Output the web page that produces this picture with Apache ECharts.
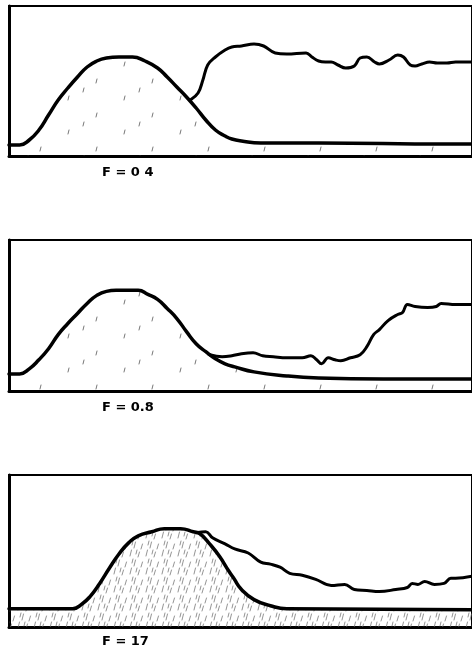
<!DOCTYPE html>
<html>
<head>
<meta charset="utf-8">
<style>
html,body{margin:0;padding:0;background:#fff;}
#c{width:472px;height:653px;}
</style>
<script src="https://cdn.jsdelivr.net/npm/echarts@6/dist/echarts.min.js"></script>
</head>
<body>
<div id="c"></div>
<script>
// ---- data (x: time units, y: signal units) ----
const panelLabels = ['F = 0 4', 'F = 0.8', 'F = 17'];

const p1BellX = [0, 1.1, 2.1, 3.1, 4.1, 5.1, 6.1, 7.1, 8.1, 9.1, 10.1, 11.4, 12.8, 14.1, 15.4, 16.4, 17.4, 18.4, 19.4, 20.4, 21.4, 22.4, 23.1, 24.1, 26.1, 32.1, 45.4, 48];
const p1BellY = [11, 11, 16, 26, 41, 56, 68, 79, 89, 95, 98, 99, 99, 95, 88, 79, 69, 59, 48, 36, 26, 20, 17, 15, 13, 13, 12, 12];
const p1TraceX = [18.8, 19.6, 20.1, 20.6, 21.4, 22.4, 23.1, 24.1, 25.4, 26.4, 27.6, 28.8, 30.8, 31.4, 32.1, 32.8, 33.4, 34.1, 34.9, 35.8, 36.4, 37.1, 37.9, 38.4, 39.4, 40.3, 40.9, 41.6, 42.1, 42.8, 43.6, 44.4, 45.4, 46.3, 48];
const p1TraceY = [56, 63, 76, 91, 99, 106, 109, 110, 112, 110, 103, 102, 103, 99, 95, 94, 94, 91, 88, 90, 98, 99, 94, 92, 96, 101, 99, 91, 90, 92, 94, 93, 93, 94, 94];

const p2BellX = [0, 1.1, 2.1, 3.1, 4.1, 5.1, 6.1, 7.1, 8.1, 9.1, 10.1, 11.1, 13.4, 14.4, 15.4, 16.4, 17.4, 18.4, 19.4, 20.4, 21.4, 22.4, 23.4, 25.4, 28.8, 32.1, 38.8, 48];
const p2BellY = [17, 17, 22, 31, 42, 56, 67, 77, 87, 95, 99, 100, 100, 96, 91, 82, 72, 59, 47, 39, 32, 27, 24, 19, 15, 13, 12, 12];
const p2TraceX = [20.8, 22.1, 23.1, 24.1, 25.3, 26.3, 27.4, 28.8, 30.4, 31.3, 31.9, 32.4, 33.1, 33.8, 34.4, 35.4, 36.4, 37.1, 37.8, 38.4, 39.3, 40.3, 40.8, 41.3, 42.1, 43.4, 44.3, 44.8, 46.3, 48];
const p2TraceY = [36, 34, 35, 37, 38, 35, 34, 33, 33, 35, 31, 27, 33, 31, 30, 33, 36, 44, 56, 61, 70, 76, 78, 86, 84, 83, 84, 87, 86, 86];

const p3BellX = [0, 6.6, 7.6, 8.4, 9.4, 10.4, 11.4, 12.4, 13.4, 14.8, 16.1, 17.8, 19.1, 19.8, 20.8, 21.8, 22.8, 23.3, 24.1, 25.4, 27.1, 28.8, 48];
const p3BellY = [18, 18, 23, 30, 43, 58, 72, 83, 90, 94, 97, 97, 94, 92, 82, 70, 55, 48, 37, 27, 21, 18, 17];
const p3TraceX = [19.4, 20.4, 21.1, 22.4, 23.4, 24.8, 26.1, 27.1, 28.1, 29.1, 30.4, 31.8, 33.4, 34.8, 35.8, 37.1, 38.4, 40.1, 41.3, 41.8, 42.4, 43.1, 44.1, 45.1, 45.8, 46.3, 48];
const p3TraceY = [93, 94, 88, 82, 77, 73, 64, 62, 59, 53, 51, 47, 41, 42, 37, 36, 35, 37, 39, 43, 42, 45, 42, 43, 48, 48, 50];

const xMin = 0, xMax = 48, yMin = 0, yMax = 150;

// ---- helpers ----
function zip(xs, ys) { return xs.map((x, i) => [x, ys[i]]); }

function makeHatch(w, h, strokes, color, lw) {
  const cv = document.createElement('canvas');
  cv.width = w; cv.height = h;
  const ctx = cv.getContext('2d');
  ctx.strokeStyle = color; ctx.lineWidth = lw; ctx.lineCap = 'round';
  strokes.forEach(s => { ctx.beginPath(); ctx.moveTo(s[0], s[1]); ctx.lineTo(s[2], s[3]); ctx.stroke(); });
  return { image: cv, repeat: 'repeat' };
}

const sparseHatch = makeHatch(56, 34, [[12, 32, 13, 28], [40, 15, 41, 11], [27, 24, 28, 20]], '#555', 0.8);
const denseHatch = makeHatch(16, 18, [
  [2, 16, 3.5, 10], [6, 8, 7.5, 2], [10, 17, 11.5, 12], [13, 9, 14.5, 4], [4, 5, 5, 1], [8, 14, 9, 10]
], '#666', 0.7);

const grids = [
  { left: 9, right: -17, top: 6, height: 150 },
  { left: 9, right: -17, top: 240, height: 151 },
  { left: 9, right: -17, top: 475, height: 152 }
];
const panels = [
  { bell: zip(p1BellX, p1BellY), trace: zip(p1TraceX, p1TraceY), hatch: sparseHatch },
  { bell: zip(p2BellX, p2BellY), trace: zip(p2TraceX, p2TraceY), hatch: sparseHatch },
  { bell: zip(p3BellX, p3BellY), trace: zip(p3TraceX, p3TraceY), hatch: denseHatch }
];
const labelY = [174, 409, 643];

const option = {
  backgroundColor: '#fff',
  animation: false,
  grid: grids.map(g => Object.assign({ show: true, borderColor: '#000', borderWidth: 2, backgroundColor: 'transparent' }, g)),
  xAxis: grids.map((g, i) => ({
    type: 'value', gridIndex: i, min: xMin, max: xMax,
    axisLine: { show: true, onZero: false, lineStyle: { color: '#000', width: 3 } },
    axisTick: { show: false }, axisLabel: { show: false }, splitLine: { show: false }
  })),
  yAxis: grids.map((g, i) => ({
    type: 'value', gridIndex: i, min: yMin, max: yMax,
    axisLine: { show: true, lineStyle: { color: '#000', width: 3 } },
    axisTick: { show: false }, axisLabel: { show: false }, splitLine: { show: false }
  })),
  series: [],
  graphic: panelLabels.map((t, i) => ({
    type: 'text', left: 102, top: labelY[i] - 8,
    style: { text: t, font: 'bold 13px "DejaVu Sans"', fill: '#000' }
  }))
};

panels.forEach((p, i) => {
  option.series.push({
    type: 'line', xAxisIndex: i, yAxisIndex: i, data: p.bell,
    smooth: 0.5, showSymbol: false, symbol: 'none',
    lineStyle: { color: '#000', width: 3.5, join: 'round', cap: 'round' },
    areaStyle: { color: p.hatch, opacity: 1 },
    z: 3
  });
  option.series.push({
    type: 'line', xAxisIndex: i, yAxisIndex: i, data: p.trace,
    smooth: 0.4, showSymbol: false, symbol: 'none',
    lineStyle: { color: '#000', width: 3, join: 'round', cap: 'round' },
    z: 4
  });
});

const chart = echarts.init(document.getElementById('c'), null, { renderer: 'canvas' });
chart.setOption(option);
</script>
</body>
</html>
